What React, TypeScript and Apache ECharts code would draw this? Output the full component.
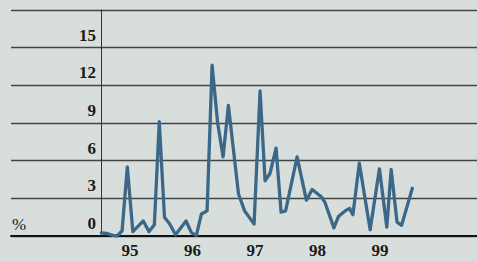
import { useEffect, useRef } from 'react';
import * as echarts from 'echarts';

// months since January 1995
const monthOffsets = [0, 1.08, 2.24, 3.0, 3.97, 4.98, 6.04, 8.04, 9.15, 10.17, 11.11, 12.11, 13.12, 14.24, 16.25, 17.31, 18.23, 19.19, 20.29, 21.25, 22.32, 23.36, 24.38, 26.32, 27.49, 29.31, 30.46, 31.42, 32.38, 33.53, 34.49, 35.36, 37.57, 39.35, 40.45, 42.27, 42.94, 44.63, 45.5, 46.78, 47.65, 48.28, 49.51, 51.59, 53.37, 54.79, 55.62, 56.75, 57.63, 59.69];
const values = [0.25, 0.2, 0.05, 0.0, 0.4, 5.5, 0.35, 1.2, 0.35, 0.9, 9.1, 1.5, 0.95, 0.1, 1.2, 0.25, 0.05, 1.75, 2.0, 13.6, 9.0, 6.3, 10.4, 3.35, 2.0, 0.95, 11.55, 4.4, 5.0, 7.0, 1.9, 2.0, 6.3, 2.85, 3.7, 3.1, 2.65, 0.65, 1.55, 2.0, 2.2, 1.7, 5.8, 0.5, 5.35, 0.7, 5.3, 1.1, 0.85, 3.8];
const yearLabels = ['95', '96', '97', '98', '99'];
const yearLabelMonths = [5.5, 17.5, 29.5, 41.5, 53.5];
const yTicks = { min: 0, max: 18, interval: 3 };
const unitLabel = '%';

const BG = '#d8dedc';
const FONT = '"Liberation Serif", "Times New Roman", serif';

export default function App() {
  const ref = useRef<HTMLDivElement>(null);
  useEffect(() => {
    document.body.style.margin = '0';
    document.body.style.background = BG;
    const chart = echarts.init(ref.current!, null, { renderer: 'svg' });
    chart.setOption({
      animation: false,
      backgroundColor: BG,
      grid: { left: 11, right: 0, top: 10, bottom: 25, containLabel: false, outerBoundsMode: 'none' },
      xAxis: {
        type: 'value',
        min: -17.35,
        max: 72.1,
        axisLine: { show: true, onZero: true, lineStyle: { color: '#111', width: 2 } },
        axisTick: { show: false },
        splitLine: { show: false },
        axisLabel: {
          customValues: yearLabelMonths,
          formatter: (v: number) => {
            const i = yearLabelMonths.findIndex((m) => Math.abs(m - v) < 0.01);
            return i >= 0 ? yearLabels[i] : '';
          },
          color: '#1a1a1a',
          fontFamily: FONT,
          fontSize: 17,
          fontWeight: 'bold',
          margin: 6,
        },
      },
      yAxis: {
        type: 'value',
        min: yTicks.min,
        max: yTicks.max,
        interval: yTicks.interval,
        axisLine: { show: true, onZero: true, lineStyle: { color: '#333', width: 1 } },
        axisTick: { show: false },
        splitLine: { show: true, lineStyle: { color: '#444', width: 1.4 } },
        axisLabel: {
          formatter: (v: number) => (v === yTicks.max ? '' : String(v)),
          color: '#1a1a1a',
          fontFamily: FONT,
          fontSize: 17,
          fontWeight: 'bold',
          margin: -85,
          align: 'right',
          verticalAlign: 'bottom',
          padding: [0, 0, 4, 0],
        },
      },
      graphic: [
        {
          type: 'text',
          left: 12,
          top: 216,
          style: { text: unitLabel, font: '17px ' + FONT, fill: '#1a1a1a' },
        },
      ],
      series: [
        {
          type: 'line',
          data: monthOffsets.map((m, i) => [m, values[i]]),
          showSymbol: false,
          symbol: 'none',
          lineStyle: { color: '#3b6888', width: 3.3, cap: 'round', join: 'round' },
          z: 5,
        },
      ],
    });
    return () => chart.dispose();
  }, []);
  return <div ref={ref} style={{ width: 477, height: 261 }} />;
}
